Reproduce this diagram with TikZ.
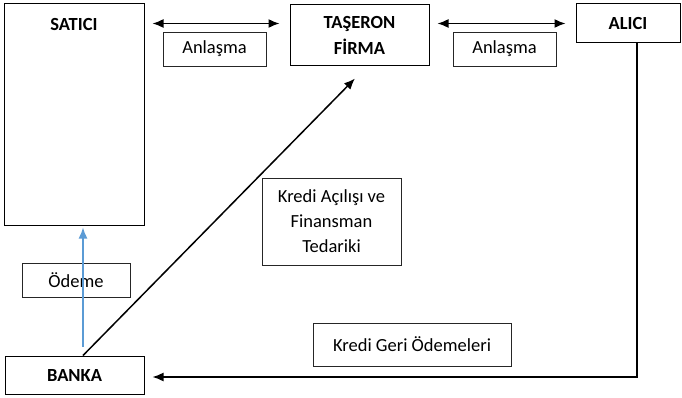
\documentclass[tikz,border=0pt]{standalone}
\usepackage{fontspec}
\setmainfont{Carlito}
\usetikzlibrary{arrows.meta,calc}
\definecolor{payblue}{RGB}{91,155,213}
\begin{document}
\begin{tikzpicture}[x=1pt,y=-1pt,
  box/.style={draw,line width=1pt,inner sep=0pt,align=center},
  lbl/.style={box,line width=0.8pt,draw=black!85},
  ttl/.style={font=\fontsize{18.5}{26}\selectfont\bfseries},
  txt/.style={font=\fontsize{18.5}{25}\selectfont},
  tip/.style={-{Latex[length=11pt,width=9pt]}},
  conn/.style={line width=1.5pt,tip},
  both/.style={line width=1.5pt,{Latex[length=11pt,width=9pt]}-{Latex[length=11pt,width=9pt]}}]
\useasboundingbox (0,0) rectangle (682,398);
% parties
\node[box,minimum width=140,minimum height=221] (sat) at (74,114.5) {};
\node[ttl] (satlbl) at (74,24) {SATICI};
\node[box,ttl,minimum width=139,minimum height=61] (tas) at (359.5,35.5) {TAŞERON\\FİRMA};
\node[box,ttl,minimum width=104,minimum height=39] (alici) at (628,23.5) {ALICI};
\node[box,ttl,minimum width=139,minimum height=38] (banka) at (74.5,375) {BANKA};
% flow labels
\node[lbl,txt,minimum width=103,minimum height=34] (anl1) at (214.5,49) {Anlaşma};
\node[lbl,txt,minimum width=103,minimum height=34] (anl2) at (504.5,49) {Anlaşma};
\node[lbl,txt,minimum width=108,minimum height=34] (odeme) at (76,280) {Ödeme};
\node[lbl,txt,minimum width=139,minimum height=87] (kredi) at (331.5,221.5) {Kredi Açılışı ve\\Finansman\\Tedariki};
\node[lbl,txt,minimum width=198,minimum height=43] (geri) at (412,344.5) {Kredi Geri Ödemeleri};
% agreements
\draw[both] ($(sat.north east)+(8,20)$) -- ($(tas.north west)+(-10,19)$);
\draw[both] ($(tas.north east)+(8,19)$) -- ($(alici.north west)+(-10,20)$);
% payment from bank to seller
\draw[line width=1.5pt,draw=payblue,tip]
  ($(banka.north)+(8.5,-9)$) -- ($(sat.south)+(9,2)$);
% credit line from bank to subcontractor
\draw[conn] ($(banka.north)+(8.5,0)$) -- ($(tas.south)+(-4.5,12)$);
% repayments from buyer to bank
\draw[conn] ($(alici.south)+(9,0)$) |- ($(banka.east)+(8,2)$);
\end{tikzpicture}
\end{document}
